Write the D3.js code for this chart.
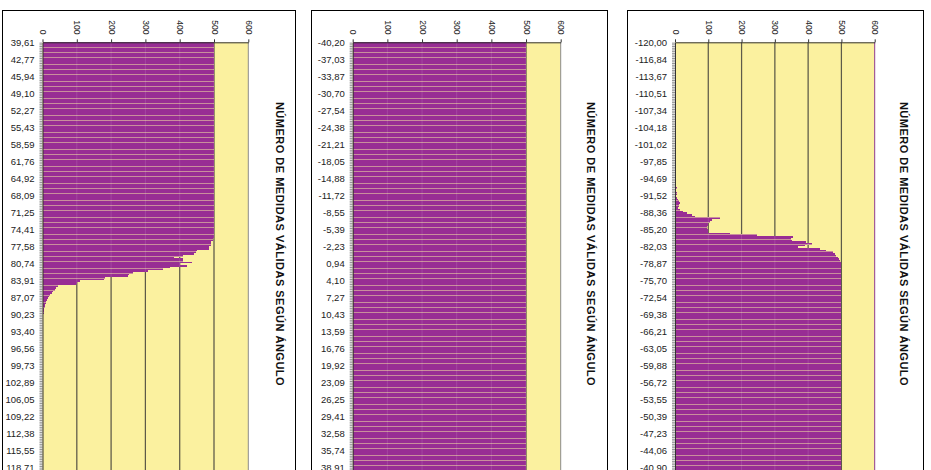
<!DOCTYPE html>
<html>
<head>
<meta charset="utf-8">
<script src="https://cdn.jsdelivr.net/npm/d3@7"></script>
<style>
  html, body { margin: 0; padding: 0; background: #ffffff; overflow: hidden; }
  svg { display: block; font-family: "Liberation Sans", Arial, sans-serif; }
</style>
</head>
<body>
<svg id="chart" width="931" height="470"></svg>
<script>
// Value axis ticks (number of valid measurements)
const valueTicks = [0, 100, 200, 300, 400, 500, 600];
const titleText = "NÚMERO DE MEDIDAS VÁLIDAS SEGÚN ÁNGULO";

// Angle labels, one every ten angle bins
const labels1 = ["39,61","42,77","45,94","49,10","52,27","55,43","58,59","61,76","64,92","68,09","71,25","74,41","77,58","80,74","83,91","87,07","90,23","93,40","96,56","99,73","102,89","106,05","109,22","112,38","115,55","118,71"];
const labels2 = ["-40,20","-37,03","-33,87","-30,70","-27,54","-24,38","-21,21","-18,05","-14,88","-11,72","-8,55","-5,39","-2,23","0,94","4,10","7,27","10,43","13,59","16,76","19,92","23,09","26,25","29,41","32,58","35,74","38,91"];
const labels3 = ["-120,00","-116,84","-113,67","-110,51","-107,34","-104,18","-101,02","-97,85","-94,69","-91,52","-88,36","-85,20","-82,03","-78,87","-75,70","-72,54","-69,38","-66,21","-63,05","-59,88","-56,72","-53,55","-50,39","-47,23","-44,06","-40,90"];

// Valid measurements per angle bin (253 bins per panel)
const counts1 = [
  500,500,500,500,500,500,500,500,500,500,500,500,500,500,500,500,500,500,500,500,
  500,500,500,500,500,500,500,500,500,500,500,500,500,500,500,500,500,500,500,500,
  500,500,500,500,500,500,500,500,500,500,500,500,500,500,500,500,500,500,500,500,
  500,500,500,500,500,500,500,500,500,500,500,500,500,500,500,500,500,500,500,500,
  500,500,500,500,500,500,500,500,500,500,500,500,500,500,500,500,500,500,500,500,
  500,500,500,500,500,500,500,500,500,500,500,500,500,500,500,
  497,496,492,491,490,486,484,450,448,442,409,384,410,411,436,401,421,372,351,309,
  263,252,250,183,180,110,102,97,44,40,36,32,27,23,20,16,13,11,9,7,
  6,5,4,3,3,2,1,1,1,1,1,
  0,0,0,0,0,0,0,0,0,0,0,0,0,0,0,0,0,0,0,0,
  0,0,0,0,0,0,0,0,0,0,0,0,0,0,0,0,0,0,0,0,
  0,0,0,0,0,0,0,0,0,0,0,0,0,0,0,0,0,0,0,0,
  0,0,0,0,0,0,0,0,0,0,0,0,0,0,0,0,0,0,0,0,
  0,0,0,0,0,0,0
];
const counts2 = [
  500,500,500,500,500,500,500,500,500,500,500,500,500,500,500,500,500,500,500,500,
  500,500,500,500,500,500,500,500,500,500,500,500,500,500,500,500,500,500,500,500,
  500,500,500,500,500,500,500,500,500,500,500,500,500,500,500,500,500,500,500,500,
  500,500,500,500,500,500,500,500,500,500,500,500,500,500,500,500,500,500,500,500,
  500,500,500,500,500,500,500,500,500,500,500,500,500,500,500,500,500,500,500,500,
  500,500,500,500,500,500,500,500,500,500,500,500,500,500,500,500,500,500,500,500,
  500,500,500,500,500,500,500,500,500,500,500,500,500,500,500,500,500,500,500,500,
  500,500,500,500,500,500,500,500,500,500,500,500,500,500,500,500,500,500,500,500,
  500,500,500,500,500,500,500,500,500,500,500,500,500,500,500,500,500,500,500,500,
  500,500,500,500,500,500,500,500,500,500,500,500,500,500,500,500,500,500,500,500,
  500,500,500,500,500,500,500,500,500,500,500,500,500,500,500,500,500,500,500,500,
  500,500,500,500,500,500,500,500,500,500,500,500,500,500,500,500,500,500,500,500,
  500,500,500,500,500,500,500,500,500,500,500,500,500
];
const counts3 = [
  0,0,0,0,0,0,0,0,0,0,0,0,0,0,0,0,0,0,0,0,
  0,0,0,0,0,0,0,0,0,0,0,0,
  2,2,
  0,0,0,0,0,0,0,0,0,0,0,0,0,0,0,0,0,0,0,0,0,
  2,2,2,2,
  0,0,0,0,0,0,0,0,0,0,0,0,0,0,0,0,0,0,0,0,0,
  4,2,2,3,2,6,3,3,7,6,4,5,10,12,14,11,13,8,15,25,
  35,50,60,135,112,105,100,98,97,97,98,99,165,245,355,350,352,395,413,390,
  370,435,455,475,480,485,490,493,496,498,499,
  500,500,500,500,500,500,500,500,500,500,500,500,500,500,500,500,500,500,500,500,
  500,500,500,500,500,500,500,500,500,500,500,500,500,500,500,500,500,500,500,500,
  500,500,500,500,500,500,500,500,500,500,500,500,500,500,500,500,500,500,500,500,
  500,500,500,500,500,500,500,500,500,500,500,500,500,500,500,500,500,500,500,500,
  500,500,500,500,500,500,500,500,500,500,500,500,500,500,500,500,500,500,500,500,
  500,500,500,500,500,500,500,500,500,500,500,500,500,500,500,500,500,500,500,500,
  500,500
];

const BAR = "#982d94";
const BAR_GAP = "#c98e9c";   // tint seen in the thin gaps between bars
const PLOT_BG = "#fbf19f";
const GRID = "#4a4734";

const panels = [
  { labels: labels1, counts: counts1, frame: [2.5, 295.5], plot: [42.5, 248.3], titleX: 279.5, edge: "#8c8c8c" },
  { labels: labels2, counts: counts2, frame: [311.5, 607.5], plot: [352.7, 560.7], titleX: 591, edge: "#8c8c8c" },
  { labels: labels3, counts: counts3, frame: [627.5, 923.5], plot: [675, 874.7], titleX: 904, edge: "#8e3a8e" }
];

const frameTop = 10.5;
const plotTop = 42.3;
const bandStep = 1.7;
const svg = d3.select("#chart");

panels.forEach(p => {
  const n = p.counts.length;
  const plotBottom = plotTop + n * bandStep;
  const g = svg.append("g");

  const x = d3.scaleLinear().domain([0, 600]).range(p.plot);
  const y = d3.scaleBand().domain(d3.range(n)).range([plotTop, plotBottom])
    .paddingInner(0.2).paddingOuter(0.1);

  // panel frame
  g.append("rect")
    .attr("x", p.frame[0]).attr("y", frameTop)
    .attr("width", p.frame[1] - p.frame[0]).attr("height", 500)
    .attr("fill", "#ffffff").attr("stroke", "#000000").attr("stroke-width", 1);

  // plot area
  g.append("rect")
    .attr("x", x(0)).attr("y", plotTop)
    .attr("width", x(600) - x(0)).attr("height", plotBottom - plotTop)
    .attr("fill", PLOT_BG);

  // vertical gridlines
  g.append("g").selectAll("line")
    .data(valueTicks.filter(v => v > 0 && v < 600))
    .join("line")
    .attr("x1", d => x(d)).attr("x2", d => x(d))
    .attr("y1", plotTop).attr("y2", plotBottom)
    .attr("stroke", GRID).attr("stroke-width", 1.2);

  // bar bands (full step) giving the gap tint, then the bars themselves
  g.append("g").selectAll("rect")
    .data(p.counts)
    .join("rect")
    .attr("x", x(0))
    .attr("y", (d, i) => y(i) - y.step() * 0.1)
    .attr("width", d => x(d) - x(0))
    .attr("height", y.step())
    .attr("fill", BAR_GAP)
    .attr("shape-rendering", "crispEdges");

  g.append("g").selectAll("rect")
    .data(p.counts)
    .join("rect")
    .attr("x", x(0))
    .attr("y", (d, i) => y(i))
    .attr("width", d => x(d) - x(0))
    .attr("height", y.bandwidth())
    .attr("fill", BAR)
    .attr("shape-rendering", "crispEdges");

  // faint gridline trace over the bars
  g.append("g").selectAll("line")
    .data(valueTicks.filter(v => v > 0 && v < 600))
    .join("line")
    .attr("x1", d => x(d)).attr("x2", d => x(d))
    .attr("y1", plotTop).attr("y2", plotBottom)
    .attr("stroke", "#ffffff").attr("stroke-opacity", 0.12).attr("stroke-width", 1);

  // right edge of plot area
  g.append("line")
    .attr("x1", x(600)).attr("x2", x(600))
    .attr("y1", plotTop).attr("y2", plotBottom)
    .attr("stroke", p.edge).attr("stroke-width", 1);

  // value axis on top
  const top = g.append("g")
    .attr("transform", `translate(0,${plotTop})`)
    .call(d3.axisTop(x).tickValues(valueTicks).tickSize(3).tickSizeOuter(0));
  top.select(".domain").attr("stroke", "#333333");
  top.selectAll(".tick line").attr("stroke", "#333333");
  top.selectAll(".tick text")
    .attr("font-size", 8.5)
    .attr("fill", "#222222")
    .attr("text-anchor", "end")
    .attr("dominant-baseline", "central")
    .attr("x", 0).attr("y", 0).attr("dy", null)
    .attr("transform", "translate(0,-7.8) rotate(90)");

  // angle axis on the left
  const left = g.append("g")
    .attr("transform", `translate(${x(0)},0)`)
    .call(d3.axisLeft(y)
      .tickValues(d3.range(n))
      .tickSize(3)
      .tickSizeOuter(0)
      .tickPadding(5)
      .tickFormat(i => (i % 10 === 0 && p.labels[i / 10] !== undefined) ? p.labels[i / 10] : ""));
  left.select(".domain").attr("stroke", "#333333");
  left.selectAll(".tick line").attr("stroke", "#444444").attr("stroke-width", 0.6);
  left.selectAll(".tick text")
    .attr("font-size", 9.5)
    .attr("fill", "#222222");

  // rotated title
  g.append("text")
    .attr("transform", `translate(${p.titleX},244) rotate(90)`)
    .attr("text-anchor", "middle")
    .attr("dominant-baseline", "central")
    .attr("font-size", 11)
    .attr("font-weight", "bold")
    .attr("letter-spacing", 0.5)
    .attr("fill", "#111111")
    .text(titleText);
});
</script>
</body>
</html>
